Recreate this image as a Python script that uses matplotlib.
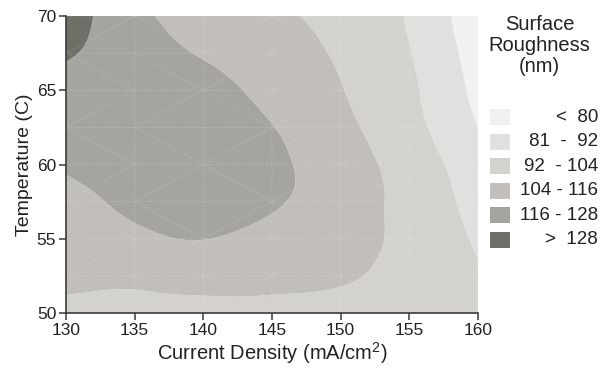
import numpy as np
import matplotlib.pyplot as plt
import matplotlib.tri as mtri
from matplotlib.patches import Rectangle

plt.rcParams["font.family"] = ["Liberation Sans", "DejaVu Sans"]
plt.rcParams["mathtext.default"] = "regular"

# grid of the response surface
current_density = [130, 135, 140, 145, 150, 155, 160]
temperature = [50, 52.5, 55, 57.5, 60, 62.5, 65, 67.5, 70]

# roughness (nm), one row per temperature, one column per current density
roughness = [
    [101.5, 101.0, 100.0, 101.0, 99.0, 97.0, 94.0],
    [106.5, 106.5, 108.5, 107.0, 105.5, 99.6, 93.0],
    [110.0, 114.0, 116.2, 112.5, 108.0, 101.0, 90.5],
    [113.5, 117.5, 119.5, 117.3, 109.5, 100.5, 87.5],
    [117.0, 120.0, 121.0, 118.3, 109.5, 99.0, 84.0],
    [120.5, 122.0, 120.5, 116.3, 107.0, 95.7, 80.0],
    [124.5, 123.0, 118.8, 113.3, 104.5, 94.0, 76.5],
    [129.0, 122.5, 115.0, 110.0, 102.5, 92.5, 74.0],
    [133.0, 120.0, 109.0, 106.0, 100.0, 91.0, 71.0],
]

levels = [60, 80, 92, 104, 116, 128, 145]
band_labels = ["<  80", "81  -  92", "92  - 104", "104 - 116", "116 - 128", ">  128"]
band_colors = ["#f1f1f1", "#e1e0de", "#d4d2cf", "#c1bebb", "#a6a49f", "#6f6f68"]

X, Y = np.meshgrid(current_density, temperature)
Z = np.array(roughness)
tri = mtri.Triangulation(X.ravel(), Y.ravel())
refiner = mtri.UniformTriRefiner(tri)
fine_tri, fine_z = refiner.refine_field(Z.ravel(), subdiv=3)

fig = plt.figure(figsize=(6.01, 3.70), dpi=100)
ax = fig.add_axes([0.1098, 0.154, 0.6855, 0.8028])

ax.tricontourf(fine_tri, fine_z, levels=levels, colors=band_colors, antialiased=True)
ax.triplot(tri, color="white", lw=0.5, alpha=0.22, ls="--")

ax.set_xlim(130, 160)
ax.set_ylim(50, 70)
ax.set_xticks(range(130, 161, 5))
ax.set_yticks(range(50, 71, 5))
for side in ("top", "right"):
    ax.spines[side].set_visible(False)
for side in ("left", "bottom"):
    ax.spines[side].set_color("#3a3a3a")
    ax.spines[side].set_linewidth(1.2)
ax.tick_params(direction="out", length=5, width=1.1, color="#3a3a3a",
               labelsize=12.5, labelcolor="#222222", pad=2)
ax.set_xlabel("Current Density (mA/cm$^{2}$)", fontsize=14.5, color="#222222", labelpad=2)
ax.set_ylabel("Temperature (C)", fontsize=14, color="#222222", labelpad=3)

# legend
fig.text(0.898, 0.96, "Surface\nRoughness\n(nm)", ha="center", va="top",
         fontsize=14.5, color="#222222", linespacing=1.15)
for i, (label, color) in enumerate(zip(band_labels, band_colors)):
    yf = 1 - (117 + 24.6 * i) / 370
    fig.patches.append(Rectangle((490 / 601, yf - 8 / 370), 20 / 601, 16 / 370,
                                 transform=fig.transFigure, facecolor=color,
                                 edgecolor="none"))
    fig.text(598 / 601, yf, label, ha="right", va="center", fontsize=13.5,
             color="#222222")

fig.savefig("out.png", dpi=100)
